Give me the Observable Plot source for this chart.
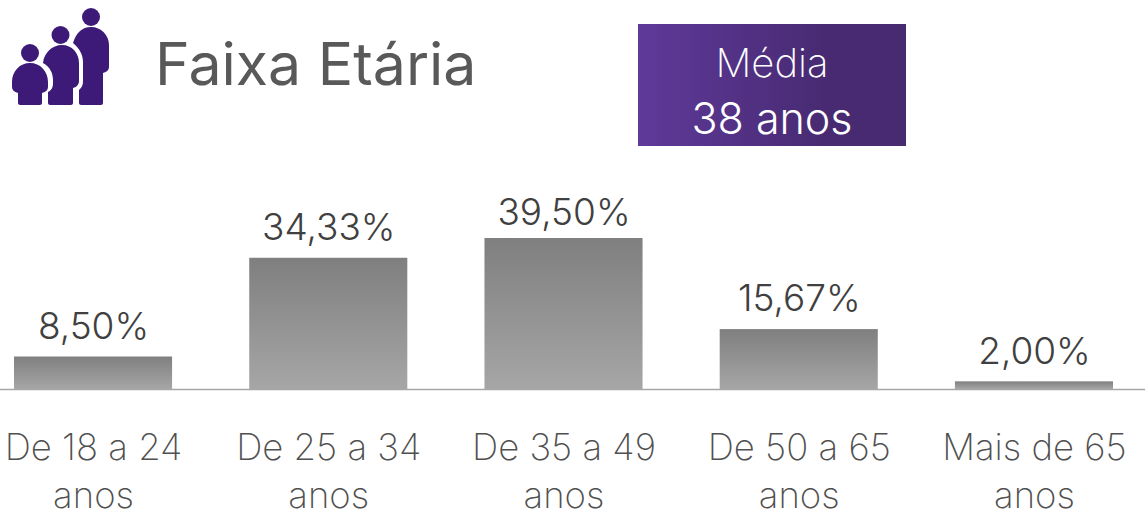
<!DOCTYPE html>
<html lang="pt">
<head>
<meta charset="utf-8">
<script src="https://cdn.jsdelivr.net/npm/d3@7"></script>
<script src="https://cdn.jsdelivr.net/npm/@observablehq/plot@0.6"></script>
<style>
html,body{margin:0;padding:0;background:#fff;width:1145px;height:510px;overflow:hidden}
#head{position:relative;width:1145px;height:160px;font-family:Inter,sans-serif}
#icon{position:absolute;left:0;top:0}
#title{position:absolute;left:155px;top:26px;font-size:59px;line-height:76px;color:#595959;font-weight:400;white-space:nowrap}
#badge{position:absolute;left:638px;top:24px;width:268px;height:122px;background:linear-gradient(90deg,#5f3a9a,#482a72 70%,#472a70);color:#fff;text-align:center}
#badge .a{position:absolute;left:0;right:0;top:16px;font-size:40px;line-height:46px;font-weight:200}
#badge .b{position:absolute;left:0;right:0;top:68px;font-size:43px;line-height:52px;font-weight:300}
#chart svg{display:block}
</style>
</head>
<body>
<div id="head">
<svg id="icon" width="130" height="120" viewBox="0 0 130 120" aria-hidden="true">
<g fill="#3d1a78">
<circle cx="30" cy="53" r="9"/><circle cx="60.500" cy="35" r="9"/><circle cx="91" cy="17" r="9"/>
<path d="M30 63c10 0 18 8 18 19v5c0 3-2 5-6 6v10c0 1-1 2-2 2H20c-1 0-2-1-2-2V93c-4-1-6-3-6-6v-5c0-11 8-19 18-19z"/>
<path d="M62 45c10 0 17 8 17 18v18c0 3-2 6-6 7v15c0 1-1 2-2 2H50c-1 0-2-1-2-2V92c4-2 5-5 5-9v-3c0-7-3-13-10-17 1-10 9-18 19-18z"/>
<path d="M91 27c10 0 18 8 18 18v22c0 3-2 5-6 6v30c0 1-1 2-2 2H81c-1 0-2-1-2-2V90c3-3 4-5 4-9V62c0-7-3-13-10-19 3-10 9-16 18-16z"/>
</g></svg>
<div id="title">Faixa Etária</div>
<div id="badge"><div class="a">Média</div><div class="b">38 anos</div></div>
</div>
<div id="chart"></div>
<script>
const categories = ["De 18 a 24\nanos","De 25 a 34\nanos","De 35 a 49\nanos","De 50 a 65\nanos","Mais de 65\nanos"];
const percentages = [8.5,34.33,39.5,15.67,2.0];
const rows = categories.map((c,i)=>({c,v:percentages[i]}));
const fmt = v => v.toFixed(2).replace(".",",")+"%";
const labelStyle = {x:"c",y:"v",text:d=>fmt(d.v),fontSize:37,fill:"#404040",fontWeight:300};
const chart = Plot.plot({
  width:1145,height:350,
  marginTop:0,marginBottom:0,marginLeft:0,marginRight:0,
  style:{background:"transparent",fontFamily:"Inter, sans-serif",overflow:"visible"},
  x:{type:"band",domain:categories,range:[14,1113],paddingInner:0.328,paddingOuter:0,round:false,label:null,axis:null},
  y:{domain:[0,39.5],range:[229,78],label:null,axis:null},
  marks:[
    ()=>{const s=d3.create("svg:defs");
      const g=s.append("linearGradient").attr("id","barG").attr("x1",0).attr("x2",0).attr("y1",0).attr("y2",1);
      g.append("stop").attr("offset","0%").attr("stop-color","#7f7f7f");
      g.append("stop").attr("offset","100%").attr("stop-color","#a6a6a6");
      return s.node();},
    Plot.barY(rows,{x:"c",y:"v",fill:"url(#barG)"}),
    Plot.ruleY([0],{stroke:"#a6a6a6",strokeWidth:1.5}),
    Plot.text(rows.filter(d=>d.v!==39.5),{...labelStyle,dy:-30}),
    Plot.text(rows.filter(d=>d.v===39.5),{...labelStyle,dy:-25}),
    Plot.axisX({domain:categories,tickSize:0,tickPadding:0,anchor:"bottom",label:null,fontSize:36.5,lineHeight:1.315,color:"#505050",fontWeight:200,lineWidth:100,y:0,dy:36,textAnchor:"middle"})
  ]
});
document.getElementById("chart").append(chart);
</script>
</body>
</html>
